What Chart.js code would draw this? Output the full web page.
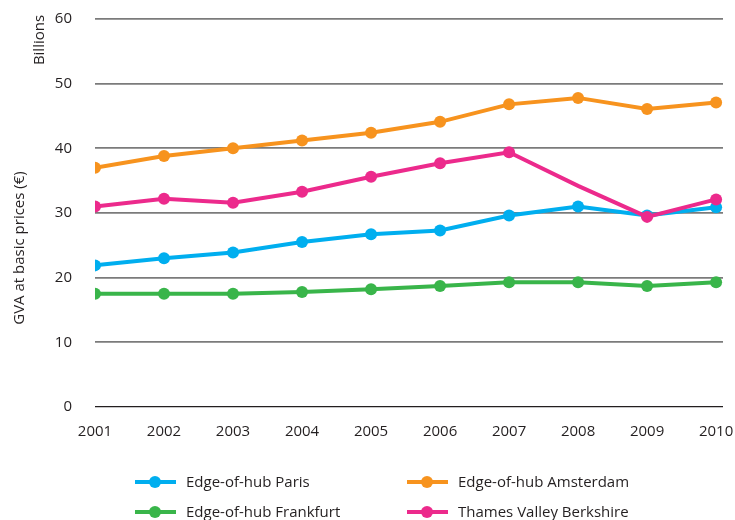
<!DOCTYPE html>
<html>
<head>
<meta charset="utf-8">
<script src="https://cdn.jsdelivr.net/npm/chart.js@4.4.1/dist/chart.umd.min.js"></script>
<style>
  html, body { margin: 0; padding: 0; background: #fff; }
  #wrap { position: relative; width: 735px; height: 520px; }
  #legend { position: absolute; left: 0; top: 0; width: 735px; height: 520px; pointer-events: none;
            font-family: 'Open Sans', sans-serif; font-size: 15px; color: #231f20; }
  .item { position: absolute; height: 20px; line-height: 20px; white-space: nowrap; }
  .mark { position: absolute; left: 0; top: 8px; width: 41px; height: 4px; }
  .mark i { position: absolute; left: 14px; top: -4px; width: 12px; height: 12px; border-radius: 50%; background: inherit; }
  .item span { position: absolute; left: 51px; top: -1px; }
</style>
</head>
<body>
<div id="wrap">
  <canvas id="gvaChart" width="735" height="520"></canvas>
  <div id="legend"></div>
</div>
<script>
var years = [2001, 2002, 2003, 2004, 2005, 2006, 2007, 2008, 2009, 2010];
var paris     = [21.9, 23.0, 23.9, 25.5, 26.7, 27.3, 29.6, 31.0, 29.6, 30.9];
var amsterdam = [37.0, 38.8, 40.0, 41.2, 42.4, 44.1, 46.8, 47.8, 46.1, 47.1];
var frankfurt = [17.5, 17.5, 17.5, 17.8, 18.2, 18.7, 19.3, 19.3, 18.7, 19.3];
var berkshire = [31.0, 32.2, 31.6, 33.3, 35.6, 37.7, 39.4, 34.2, 29.4, 32.1];
var yTicks = [0, 10, 20, 30, 40, 50, 60];

var seriesNames = ['Edge-of-hub Paris', 'Edge-of-hub Amsterdam', 'Edge-of-hub Frankfurt', 'Thames Valley Berkshire'];
var seriesColors = ['#00aeef', '#f7931e', '#39b54a', '#ec2a8c'];

function toPoints(values) {
    return years.map(function (y, i) { return { x: y, y: values[i] }; });
}

function lineSet(idx, values, order, radius) {
    return {
        label: seriesNames[idx],
        data: toPoints(values),
        borderColor: seriesColors[idx],
        backgroundColor: seriesColors[idx],
        pointBackgroundColor: seriesColors[idx],
        borderWidth: 4,
        pointRadius: radius || 6,
        pointBorderWidth: 0,
        tension: 0,
        fill: false,
        order: order
    };
}

// no marker on the 2008 Berkshire value in the original
var berkshireRadius = years.map(function (y) { return y === 2008 ? 0 : 6; });

var axisTitles = {
    id: 'axisTitles',
    afterDraw: function (chart) {
        var ctx = chart.ctx;
        ctx.save();
        ctx.fillStyle = '#231f20';
        ctx.font = '15px "Open Sans", sans-serif';
        ctx.textAlign = 'center';
        ctx.textBaseline = 'middle';
        ctx.translate(20, 248);
        ctx.rotate(-Math.PI / 2);
        ctx.fillText('GVA at basic prices (€)', 0, 0);
        ctx.restore();
        ctx.save();
        ctx.fillStyle = '#231f20';
        ctx.font = '15px "Open Sans", sans-serif';
        ctx.textAlign = 'center';
        ctx.textBaseline = 'middle';
        ctx.translate(40, 40);
        ctx.rotate(-Math.PI / 2);
        ctx.fillText('Billions', 0, 0);
        ctx.restore();
    }
};

var tickFont = { family: "'Open Sans', sans-serif", size: 15 };

new Chart(document.getElementById('gvaChart').getContext('2d'), {
    type: 'line',
    data: {
        datasets: [
            lineSet(0, paris, 2),
            lineSet(1, amsterdam, 1),
            lineSet(2, frankfurt, 3),
            lineSet(3, berkshire, 0, berkshireRadius)
        ]
    },
    options: {
        responsive: false,
        animation: false,
        layout: { padding: { left: 0, right: 12, top: 19, bottom: 73 } },
        plugins: { legend: { display: false }, tooltip: { enabled: false } },
        scales: {
            x: {
                type: 'linear',
                min: years[0],
                max: years[years.length - 1] + 0.1,
                afterBuildTicks: function (s) {
                    s.ticks = years.map(function (v) { return { value: v }; });
                },
                afterFit: function (s) { s.height = 40; },
                // transparent tick marks give the label gap (ticks.padding would shrink the plot)
                grid: { display: false, drawTicks: true, tickLength: 16, tickColor: 'rgba(0,0,0,0)' },
                border: { display: false },
                ticks: {
                    autoSkip: false,
                    maxRotation: 0,
                    padding: 0,
                    color: '#231f20',
                    font: tickFont,
                    callback: function (v) { return String(v); }
                }
            },
            y: {
                min: yTicks[0],
                max: yTicks[yTicks.length - 1],
                afterFit: function (s) { s.width = 95; },
                afterBuildTicks: function (s) {
                    s.ticks = yTicks.map(function (v) { return { value: v }; });
                },
                grid: {
                    drawTicks: true,
                    tickLength: 23,
                    tickColor: 'rgba(0,0,0,0)',
                    color: function (c) { return c.tick && c.tick.value === 0 ? '#231f20' : '#7b7b7b'; },
                    lineWidth: function (c) { return c.tick && c.tick.value === 0 ? 1.3 : 1.8; }
                },
                border: { display: false },
                ticks: { padding: 0, color: '#231f20', font: tickFont }
            }
        }
    },
    plugins: [axisTitles]
});

// two-column legend under the plot
var legendPos = [[135, 472], [407, 472], [135, 502], [407, 502]];
var legend = document.getElementById('legend');
seriesNames.forEach(function (name, i) {
    var item = document.createElement('div');
    item.className = 'item';
    item.style.left = legendPos[i][0] + 'px';
    item.style.top = legendPos[i][1] + 'px';
    var mark = document.createElement('div');
    mark.className = 'mark';
    mark.style.background = seriesColors[i];
    mark.appendChild(document.createElement('i'));
    var txt = document.createElement('span');
    txt.textContent = name;
    item.appendChild(mark);
    item.appendChild(txt);
    legend.appendChild(item);
});
</script>
</body>
</html>
